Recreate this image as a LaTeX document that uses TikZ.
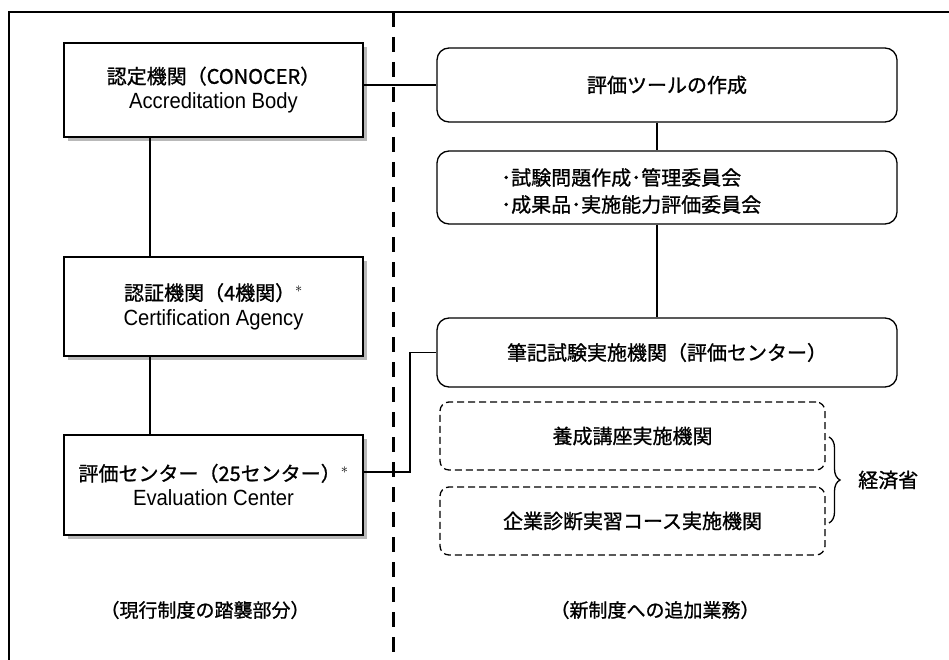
\documentclass[tikz,border=0pt]{standalone}
\usepackage{fontspec}
\setmainfont[FakeStretch=0.92]{Liberation Sans}
\newfontfamily\jp[FakeBold=1]{Noto Sans CJK JP}
\usetikzlibrary{decorations.pathreplacing,shadows}
\tikzset{
  lbox/.style={draw, line width=1.3pt, fill=white, minimum width=299pt, inner sep=0pt, align=center,
    font=\fontsize{22}{25}\selectfont,
    drop shadow={shadow xshift=3.5pt, shadow yshift=-4pt, fill=gray!55, opacity=1}},
  rbox/.style={draw, line width=1.3pt, rounded corners=12pt, minimum width=460pt, inner sep=0pt,
    font=\jp\fontsize{20}{25}\selectfont},
  dbox/.style={draw, line width=1.3pt, rounded corners=9pt, dash pattern=on 7pt off 4pt,
    minimum width=385pt, minimum height=68pt, inner sep=0pt, font=\jp\fontsize{20}{25}\selectfont},
  conn/.style={line width=1.3pt},
  lbl/.style={font=\jp\fontsize{19}{22}\selectfont, inner sep=0pt}
}
\begin{document}
\begin{tikzpicture}[x=1pt,y=-1pt]
\useasboundingbox (0,0) rectangle (949,660);
% frame
\draw[line width=2pt] (9,660) -- (9,12) -- (949,12);
\draw[line width=3pt, dash pattern=on 15pt off 10pt] (393,12) -- (393,660);

% left boxes
\node[lbox, minimum height=94pt] (A) at (213.5,90) {{\jp\fontsize{20}{25}\selectfont 認定機関（CONOCER）}\\Accreditation Body};
\node[lbox, minimum height=99pt] (B) at (213.5,306.5) {{\jp\fontsize{20}{25}\selectfont 認証機関（4機関）}$^{*}$\\Certification Agency};
\node[lbox, minimum height=100pt] (C) at (213.5,485) {{\jp\fontsize{20}{25}\selectfont 評価センター（25センター）}$^{*}$\\Evaluation Center};

% right boxes
\node[rbox, minimum height=74pt] (R1) at (667,85) {評価ツールの作成};
\node[rbox, minimum height=73pt] (R2) at (667,187.5) {};
\node[lbl, anchor=west, align=left, font=\jp\fontsize{20}{27}\selectfont] (R2t) at (501,191) {･試験問題作成･管理委員会\\･成果品･実施能力評価委員会};
\node[rbox, minimum height=69pt] (R3) at (667,352.5) {筆記試験実施機関（評価センター）};
\node[dbox] (D1) at (632.5,436) {養成講座実施機関};
\node[dbox] (D2) at (632.5,521) {企業診断実習コース実施機関};

% brace and label
\coordinate (bt) at (829,437);
\coordinate (bb) at (829,523);
\draw[line width=1.3pt, decorate, decoration={brace, amplitude=11pt}] (bt) -- (bb);
\node[lbl, anchor=west, font=\jp\fontsize{20}{22}\selectfont] (M) at (858,480) {経済省};

% bottom labels
\node[lbl] (L1) at (205,610) {（現行制度の踏襲部分）};
\node[lbl] (L2) at (655,610) {（新制度への追加業務）};

% connectors
\coordinate (cx) at (150,0);
\coordinate (rx) at (657,0);
\coordinate (j) at (410,472);
\draw[conn] (R1.west -| A.east) -- (R1.west);
\draw[conn] (A.south -| cx) -- (B.north -| cx);
\draw[conn] (B.south -| cx) -- (C.north -| cx);
\draw[conn] (R1.south -| rx) -- (R2.north -| rx);
\draw[conn] (R2.south -| rx) -- (R3.north -| rx);
\draw[conn] (j -| C.east) -- (j) |- (R3.west);
\end{tikzpicture}
\end{document}
